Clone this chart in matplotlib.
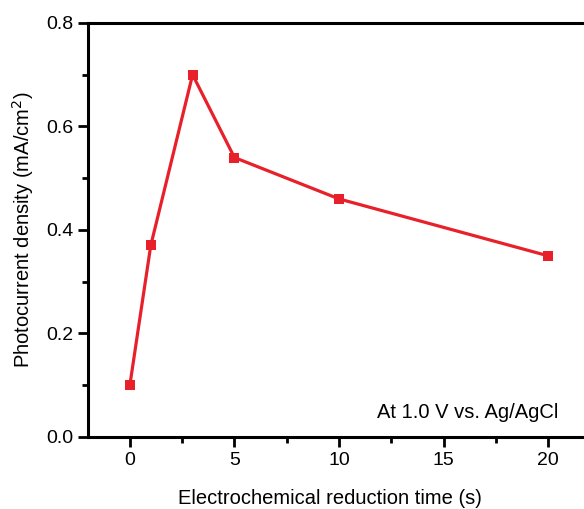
import matplotlib
matplotlib.use("Agg")
import matplotlib.pyplot as plt
from matplotlib.ticker import MultipleLocator

# reduction time (s) vs photocurrent density (mA/cm2)
times = [0, 1, 3, 5, 10, 20]
density = [0.10, 0.37, 0.70, 0.54, 0.46, 0.35]

plt.rcParams['font.family'] = ['Liberation Sans', 'DejaVu Sans']

fig = plt.figure(figsize=(5.84, 5.09), dpi=100)
# axes runs past the right edge, as in the cropped original
ax = fig.add_axes([0.1507, 0.1415, 0.8596, 0.8134])

ax.plot(times, density, color='#e8202a', lw=2.3, marker='s', ms=6.5,
        markeredgewidth=0)

ax.set_xlim(-2, 22)
ax.set_ylim(0, 0.8)
ax.xaxis.set_major_locator(MultipleLocator(5))
ax.xaxis.set_minor_locator(MultipleLocator(2.5))
ax.yaxis.set_major_locator(MultipleLocator(0.2))
ax.yaxis.set_minor_locator(MultipleLocator(0.1))
ax.yaxis.set_major_formatter(plt.FormatStrFormatter('%.1f'))

for s in ax.spines.values():
    s.set_linewidth(2.2)
ax.tick_params(which='major', direction='out', length=7, width=2, labelsize=14)
ax.tick_params(which='minor', direction='out', length=4, width=2)

ax.set_xlabel('Electrochemical reduction time (s)', fontsize=14.5)
ax.xaxis.set_label_coords(0.482, -0.125)
ax.set_ylabel('Photocurrent density (mA/cm$^2$)', fontsize=14.5, labelpad=7)

ax.text(0.936, 0.058, 'At 1.0 V vs. Ag/AgCl', transform=ax.transAxes,
        ha='right', va='center', fontsize=14.5)

fig.savefig('out.png', dpi=100)
